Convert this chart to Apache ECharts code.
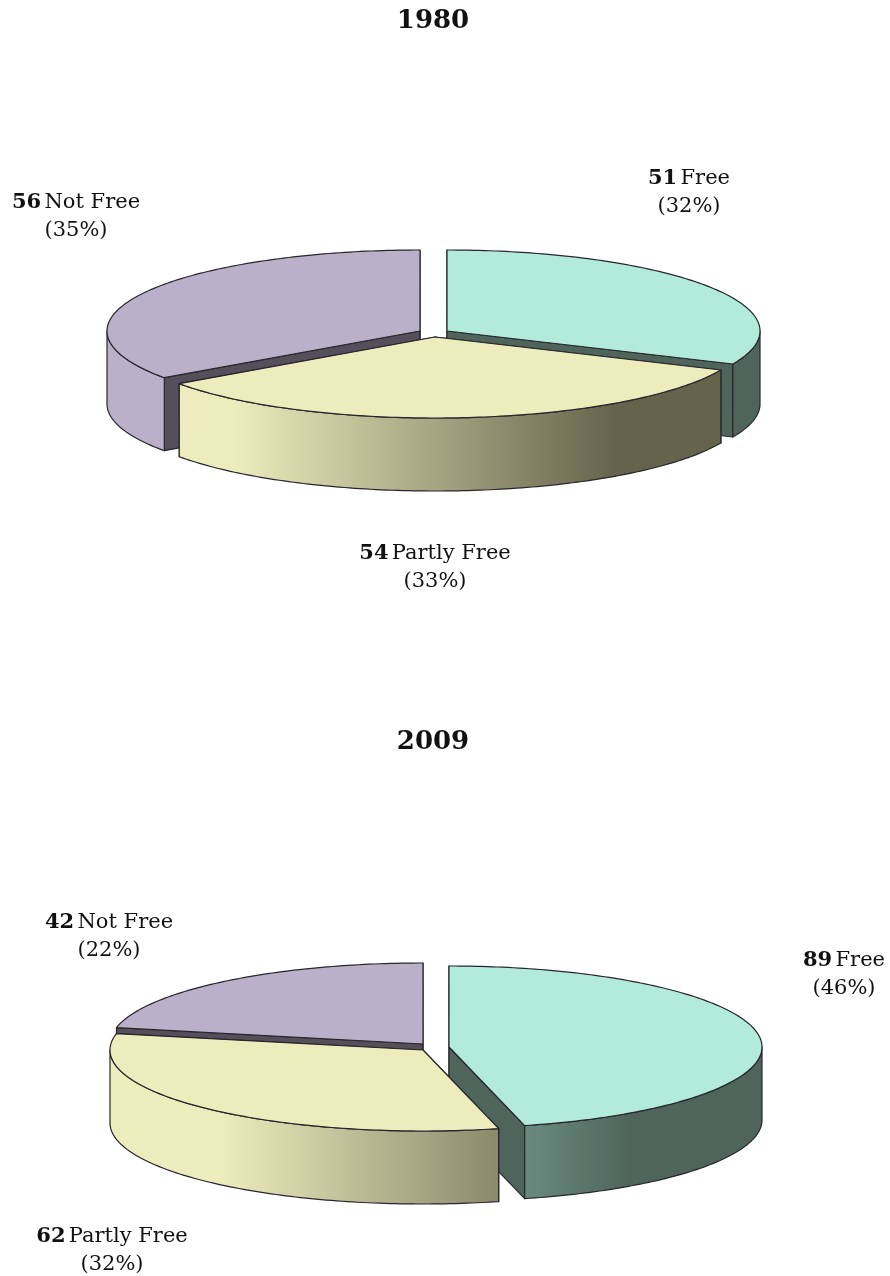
<!DOCTYPE html>
<html>
<head>
<meta charset="utf-8">
<style>html,body{margin:0;padding:0;background:#fff}#c{width:890px;height:1276px}</style>
<script src="https://cdn.jsdelivr.net/npm/echarts@6/dist/echarts.min.js"></script>
</head>
<body>
<div id="c"></div>
<script>
// ---- data ----
const categories = ['Free', 'Partly Free', 'Not Free'];
const years = ['1980', '2009'];
const values1980 = [51, 54, 56];
const values2009 = [89, 62, 42];
const percents1980 = ['32%', '33%', '35%'];
const percents2009 = ['46%', '32%', '22%'];

// ---- layout / style ----
const FONT = '"DejaVu Serif", "Liberation Serif", serif';
const RX = 313, RY = 81, DEPTH = 73;
const PAINT_ORDER = [1, 2, 0];           // Not Free, then Free, then Partly Free on top
const TOP = ['#b3ebda', '#edecbd', '#bbb0c9'];
const DARK = ['#4f655c', '#66634c', '#544f5b'];
const WALL_LIGHT = ['#b3ebda', '#edecbd', '#bbb0c9'];
const WALL_DARK = ['#4f655c', '#66634c', '#8f869b'];
const STROKE = '#26262c';
const centers1980 = [[447, 331], [435, 337], [420, 331]];
const centers2009 = [[449, 1047], [423, 1050], [423, 1044]];
const labels1980 = [[689, 193], [435, 568], [76, 217]];
const labels2009 = [[844, 975], [112, 1251], [109, 937]];

function pt(c, deg, dy) {
  const a = deg * Math.PI / 180;
  return [c[0] + RX * Math.sin(a), c[1] - RY * Math.cos(a) + (dy || 0)];
}
function arc(c, a0, a1, dy) {
  const out = [], n = Math.max(2, Math.ceil(Math.abs(a1 - a0)));
  for (let i = 0; i <= n; i++) out.push(pt(c, a0 + (a1 - a0) * i / n, dy));
  return out;
}
function sliceSeries(values, percents, centers, labels) {
  const total = values.reduce((s, v) => s + v, 0);
  return {
    type: 'custom',
    coordinateSystem: 'none',
    silent: true,
    animation: false,
    data: values.map((v, i) => ({ name: categories[i], value: v })),
    renderItem: function (params, api) {
      const i = params.dataIndex;
      const v = api.value(0);
      let before = 0;
      for (let k = 0; k < i; k++) before += values[k];
      const a0 = before / total * 360, a1 = a0 + v / total * 360;
      const c = centers[i];
      const z = PAINT_ORDER[i] * 10;
      const children = [];
      const poly = (points, fill, zz) => children.push({
        type: 'polygon', z2: z + zz, shape: { points },
        style: { fill, stroke: STROKE, lineWidth: 1.2, lineJoin: 'round' }
      });
      // cut faces
      [a0, a1].forEach((a, k) => {
        const p = pt(c, a);
        poly([c, p, [p[0], p[1] + DEPTH], [c[0], c[1] + DEPTH]], DARK[i], k);
      });
      // outer wall, only the part that faces the viewer
      const w0 = Math.max(a0, 90), w1 = Math.min(a1, 270);
      if (w1 > w0) {
        const grad = new echarts.graphic.LinearGradient(c[0] - RX, 0, c[0] + RX, 0, [
          { offset: 0, color: WALL_LIGHT[i] },
          { offset: 0.18, color: WALL_LIGHT[i] },
          { offset: 0.79, color: WALL_DARK[i] },
          { offset: 1, color: WALL_DARK[i] }
        ], true);
        poly(arc(c, w0, w1, 0).concat(arc(c, w1, w0, DEPTH)), grad, 2);
      }
      // top face
      poly([c].concat(arc(c, a0, a1, 0)), TOP[i], 3);
      // label
      const l = labels[i];
      children.push({
        type: 'text', z2: 100,
        style: {
          x: l[0], y: l[1], align: 'center', verticalAlign: 'middle',
          text: '{b|' + v + '} {n|' + categories[i] + '}\n{n|(' + percents[i] + ')}',
          fill: '#111',
          rich: {
            b: { fontFamily: FONT, fontSize: 21, fontWeight: 'bold', lineHeight: 28, fill: '#111' },
            n: { fontFamily: FONT, fontSize: 21, lineHeight: 28, fill: '#111' }
          }
        }
      });
      return { type: 'group', children };
    }
  };
}

const chart = echarts.init(document.getElementById('c'), null, { renderer: 'canvas' });
chart.setOption({
  backgroundColor: '#fff',
  animation: false,
  title: [
    { text: years[0], left: 433, top: 8, padding: 0, textAlign: 'center', textStyle: { fontFamily: FONT, fontSize: 26, fontWeight: 'bold', color: '#111' } },
    { text: years[1], left: 433, top: 729, padding: 0, textAlign: 'center', textStyle: { fontFamily: FONT, fontSize: 26, fontWeight: 'bold', color: '#111' } }
  ],
  series: [
    sliceSeries(values1980, percents1980, centers1980, labels1980),
    sliceSeries(values2009, percents2009, centers2009, labels2009)
  ]
});
</script>
</body>
</html>
